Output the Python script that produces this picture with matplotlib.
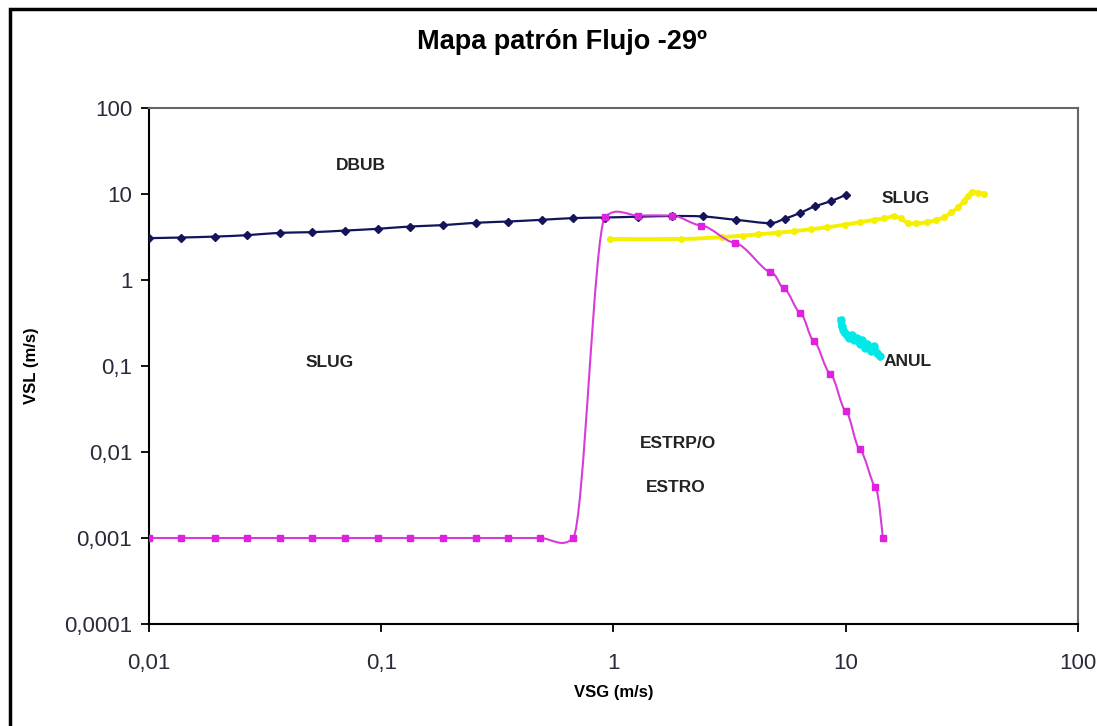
import numpy as np
import matplotlib
matplotlib.use('Agg')
import matplotlib.pyplot as plt
from matplotlib.path import Path
from matplotlib.patches import PathPatch, Rectangle

plt.rcParams['font.family'] = ['Liberation Sans', 'DejaVu Sans']

# frontier curves (VSG, VSL in m/s)
navy_x = [0.01, 0.0138, 0.0192, 0.0263, 0.0367, 0.0504, 0.070, 0.0964, 0.133, 0.185,
          0.255, 0.351, 0.49, 0.67, 0.92, 1.28, 1.78, 2.43, 3.38, 4.70, 5.45, 6.33,
          7.34, 8.65, 10.0]
navy_y = [3.07, 3.12, 3.20, 3.32, 3.54, 3.60, 3.76, 3.94, 4.19, 4.35,
          4.63, 4.79, 5.01, 5.25, 5.33, 5.45, 5.55, 5.48, 5.01, 4.59, 5.15, 6.0,
          7.17, 8.28, 9.8]

mag_x = [0.01, 0.0138, 0.0192, 0.0263, 0.0367, 0.0504, 0.070, 0.0964, 0.133, 0.185,
         0.255, 0.351, 0.484, 0.67, 0.92, 1.28, 1.78, 2.39, 3.33, 4.70, 5.42, 6.38,
         7.29, 8.57, 10.0, 11.5, 13.4, 14.5]
mag_y = [0.001, 0.001, 0.001, 0.001, 0.001, 0.001, 0.001, 0.001, 0.001, 0.001,
         0.001, 0.001, 0.001, 0.001, 5.39, 5.62, 5.62, 4.30, 2.70, 1.25, 0.80, 0.41,
         0.196, 0.0815, 0.0299, 0.0107, 0.0039, 0.001]

yel_x = [0.97, 1.96, 2.92, 3.6, 4.2, 5.1, 6.0, 7.1, 8.3, 9.9, 11.5, 13.2, 14.6, 16.1,
         17.3, 18.5, 20.0, 22.4, 24.5, 26.6, 28.4, 30.5, 32.2, 33.5, 35.0, 37.0, 39.4]
yel_y = [3.0, 3.0, 3.15, 3.28, 3.4, 3.55, 3.7, 3.9, 4.1, 4.4, 4.7, 5.0, 5.2, 5.5,
         5.2, 4.6, 4.55, 4.7, 5.0, 5.4, 6.1, 7.0, 8.3, 9.5, 10.5, 10.4, 10.1]

cyan_x = [9.55, 9.6, 9.75, 9.9, 10.1, 10.3, 10.6, 10.9, 11.2, 11.5, 11.8, 12.1, 12.4,
          12.8, 13.2, 13.6, 14.0]
cyan_y = [0.34, 0.29, 0.26, 0.24, 0.23, 0.21, 0.23, 0.20, 0.21, 0.18, 0.20, 0.16,
          0.18, 0.15, 0.17, 0.14, 0.13]

xticks = [0.01, 0.1, 1, 10, 100]
xlabels = ['0,01', '0,1', '1', '10', '100']
yticks = [0.0001, 0.001, 0.01, 0.1, 1, 10, 100]
ylabels = ['0,0001', '0,001', '0,01', '0,1', '1', '10', '100']

regions = [('DBUB', 0.082, 21.4), ('SLUG', 0.060, 0.110), ('ESTRP/O', 1.90, 0.0125),
           ('ESTRO', 1.86, 0.0039), ('SLUG', 18.1, 8.8), ('ANUL', 18.5, 0.113)]


def smooth_path(xs, ys, k=0.04):
    # smoothed line: soft bezier tangents in log space
    lx = np.log10(xs)
    ly = np.log10(ys)
    n = len(lx)
    verts = [(xs[0], ys[0])]
    codes = [Path.MOVETO]
    for i in range(n - 1):
        i0 = max(i - 1, 0)
        i3 = min(i + 2, n - 1)
        c1 = (lx[i] + (lx[i + 1] - lx[i0]) / 6, ly[i] + (ly[i + 1] - ly[i0]) * k)
        c2 = (lx[i + 1] - (lx[i3] - lx[i]) / 6, ly[i + 1] - (ly[i3] - ly[i]) * k)
        for cx, cy in (c1, c2, (lx[i + 1], ly[i + 1])):
            verts.append((10 ** cx, 10 ** cy))
            codes.append(Path.CURVE4)
    return Path(verts, codes)


fig = plt.figure(figsize=(10.97, 7.26), dpi=100)
ax = fig.add_axes([0.1358, 0.1405, 0.8469, 0.7107])
ax.set_xscale('log')
ax.set_yscale('log')
ax.set_xlim(0.01, 100)
ax.set_ylim(0.0001, 100)

ax.add_patch(PathPatch(smooth_path(navy_x, navy_y, 0.16), fill=False, ec='#14145a', lw=1.6, zorder=3))
ax.plot(navy_x, navy_y, ls='none', marker='D', ms=4, color='#14145a', zorder=4)

ax.add_patch(PathPatch(smooth_path(mag_x, mag_y, 0.035), fill=False, ec='#d83cd8', lw=1.5, zorder=3))
ax.plot(mag_x, mag_y, ls='none', marker='s', ms=4.5, color='#e020e0', zorder=4)

ax.add_patch(PathPatch(smooth_path(yel_x, yel_y, 0.16), fill=False, ec='#f5f000', lw=2.8, zorder=2))
ax.plot(yel_x, yel_y, ls='none', marker='o', ms=4, color='#f5f000', zorder=2)

ax.plot(cyan_x, cyan_y, color='#00e8e8', lw=5, marker='o', ms=5, zorder=2)

for txt, x, y in regions:
    ax.text(x, y, txt, fontsize=12.5, fontweight='bold', color='#222222', ha='center', va='center')

ax.set_xticks(xticks)
ax.set_xticklabels(xlabels)
ax.set_yticks(yticks)
ax.set_yticklabels(ylabels)
ax.minorticks_off()
ax.tick_params(direction='out', length=6, width=1.3, labelsize=16, labelcolor='#2a2a3a', pad=15)
ax.tick_params(axis='y', pad=6)

for s in ['left', 'bottom']:
    ax.spines[s].set_color('black')
    ax.spines[s].set_linewidth(1.5)
for s in ['top', 'right']:
    ax.spines[s].set_color('#666666')
    ax.spines[s].set_linewidth(1.5)

ax.set_xlabel('VSG (m/s)', fontsize=12, fontweight='bold', labelpad=8)
ax.set_ylabel('VSL (m/s)', fontsize=12, fontweight='bold', labelpad=18)
fig.text(0.512, 0.942, 'Mapa patrón Flujo -29º', fontsize=19.5, fontweight='bold', ha='center', va='center')

fig.patches.append(Rectangle((0.009, -0.01), 1.02, 0.997, transform=fig.transFigure,
                             fill=False, ec='black', lw=2.5))

fig.savefig('out.png', dpi=100)
